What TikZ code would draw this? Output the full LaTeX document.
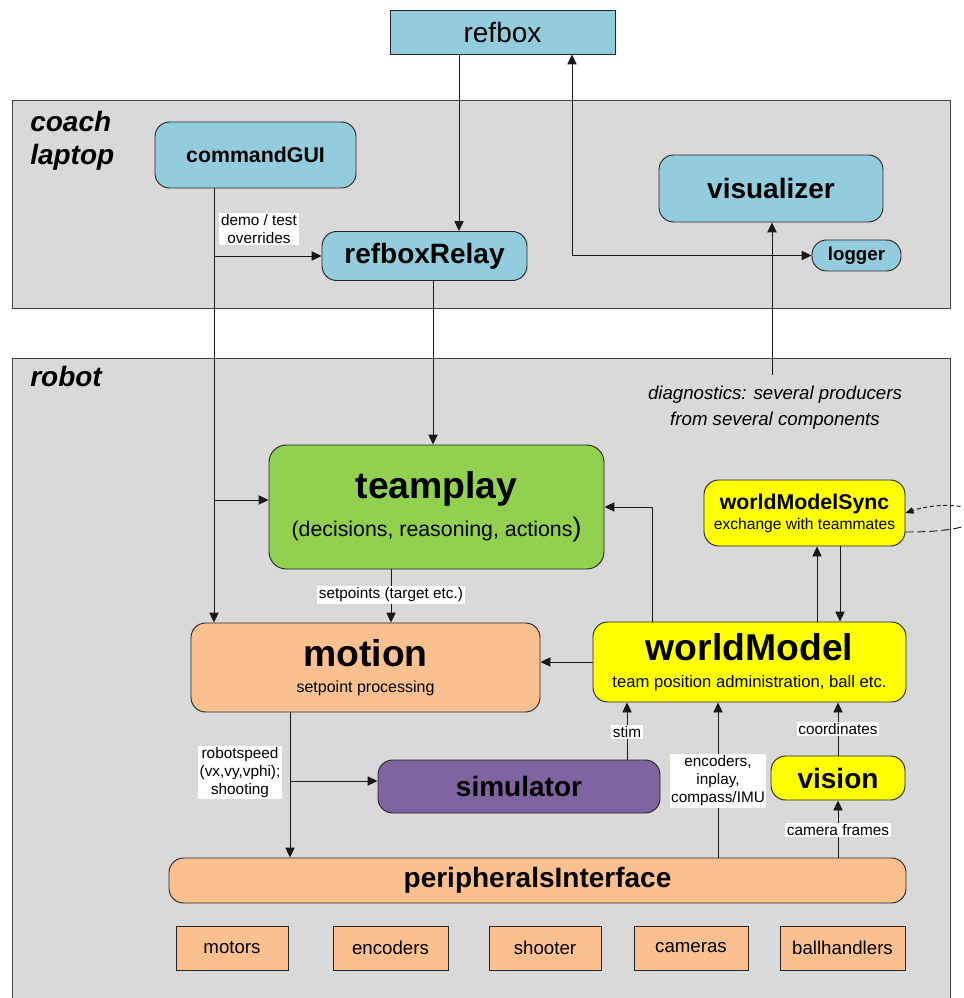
\documentclass[tikz,border=0pt]{standalone}
\usepackage{fontspec}
\setmainfont{Liberation Sans}
\usetikzlibrary{arrows.meta}
\definecolor{cblue}{HTML}{93CDDD}
\definecolor{cgray}{HTML}{D9D9D9}
\definecolor{cgreen}{HTML}{92D050}
\definecolor{cpeach}{HTML}{FAC090}
\definecolor{cyel}{HTML}{FFFF00}
\definecolor{cpurp}{HTML}{8064A2}
\newcommand\fsz[2]{\fontsize{#1pt}{#2pt}\selectfont}
\tikzset{
  px/.style 2 args={minimum width=#1*0.75pt, minimum height=#2*0.75pt},
  panel/.style={draw=black!75, fill=cgray, line width=1pt, inner sep=0pt, anchor=north west},
  rbox/.style={draw=black!85, line width=0.7pt, rounded corners=11pt, inner sep=0pt, align=center},
  sbox/.style={draw=black!85, line width=0.7pt, inner sep=0pt, align=center},
  lbl/.style={fill=white, inner sep=1.2pt, align=center, font=\fsz{11.5}{13.5}},
  conn/.style={draw=black!90, line width=0.7pt},
  arr/.style={conn, -{Triangle[length=7.5pt,width=7pt]}},
  darr/.style={conn, {Triangle[length=7.5pt,width=7pt]}-{Triangle[length=7.5pt,width=7pt]}},
}
\begin{document}
\begin{tikzpicture}[x=0.75pt,y=-0.75pt]
\useasboundingbox (0,0) rectangle (963,998);
\clip (0,0) rectangle (963,998);

% panels
\node[panel, px={938}{208}] (coachpanel) at (12,100) {};
\node[panel, px={938}{660}] (robotpanel) at (12,358) {};
\node[anchor=north west, inner sep=0pt, align=left, font=\fsz{21}{25}\bfseries\itshape] (coachlabel) at (30,111) {coach\\laptop};
\node[anchor=north west, inner sep=0pt, font=\fsz{21}{25}\bfseries\itshape] (robotlabel) at (30,366) {robot};

% top boxes
\node[sbox, fill=cblue, px={225}{44}, font=\fsz{21}{25}] (refbox) at (502.5,32) {refbox};
\node[rbox, fill=cblue, px={201}{66}, font=\fsz{16}{19}\bfseries] (commandGUI) at (255.5,155) {commandGUI};
\node[rbox, fill=cblue, px={205}{49}, font=\fsz{21}{25}\bfseries] (refboxRelay) at (424.5,256) {refboxRelay};
\node[rbox, fill=cblue, px={224}{67}, font=\fsz{21}{25}\bfseries] (visualizer) at (771,188.5) {visualizer};
\node[rbox, fill=cblue, px={89}{31}, font=\fsz{14}{17}\bfseries] (logger) at (856.5,255.5) {logger};

% robot boxes
\node[rbox, fill=cgreen, rounded corners=13pt, px={335}{124}, font=\fsz{16}{19}] (teamplay) at (436.5,507)
  {{\fsz{28}{30}\bfseries teamplay}\\[7pt](decisions, reasoning, actions{\fsz{20}{20})}};
\node[rbox, fill=cyel, px={201}{66}, font=\fsz{11.7}{14}] (worldModelSync) at (804.5,513)
  {{\fsz{16}{19}\bfseries worldModelSync}\\[1pt]exchange with teammates};
\node[rbox, fill=cpeach, px={349}{89}, font=\fsz{12}{14}] (motion) at (365.5,667.5)
  {{\fsz{28}{30}\bfseries motion}\\[5pt]setpoint processing};
\node[rbox, fill=cyel, px={313}{80}, font=\fsz{12.5}{15}] (worldModel) at (749.5,662)
  {{\fsz{28}{30}\bfseries worldModel}\\[5pt]team position administration, ball etc.};
\node[rbox, fill=cpurp, px={282}{53}, font=\fsz{21}{25}\bfseries] (simulator) at (519,786.5) {simulator};
\node[rbox, fill=cyel, px={134}{44}, font=\fsz{21}{25}\bfseries] (vision) at (838,778) {vision};
\node[rbox, fill=cpeach, px={737}{45}, font=\fsz{21}{25}\bfseries] (peripheralsInterface) at (537.5,880.5) {\raisebox{-2pt}{peripheralsInterface}};

\node[sbox, fill=cpeach, px={112}{44}, font=\fsz{14}{17}] (motors) at (232,948) {\raisebox{-1.5pt}{motors}};
\node[sbox, fill=cpeach, px={115}{44}, font=\fsz{14}{17}] (encoders) at (390.5,948) {encoders};
\node[sbox, fill=cpeach, px={112}{44}, font=\fsz{14}{17}] (shooter) at (545,948) {shooter};
\node[sbox, fill=cpeach, px={114}{44}, font=\fsz{14}{17}] (cameras) at (691,948) {\raisebox{-1.5pt}{cameras}};
\node[sbox, fill=cpeach, px={125}{44}, font=\fsz{14}{17}] (ballhandlers) at (842.5,948) {ballhandlers};

% connectors top
\draw[arr] (refbox.south -| 459,0) -- (refboxRelay.north -| 459,0);
\draw[darr] (refbox.south -| 572,0) |- (logger.west);
\coordinate (cg) at (commandGUI.south -| 214,0);
\draw[arr] (cg) -- (motion.north -| cg);
\draw[arr] (refboxRelay.west -| cg) -- (refboxRelay.west);
\draw[arr] (cg |- 0,500) -- (teamplay.west |- 0,500);
\node[lbl] (demolbl) at (259,229) {demo / test\\overrides};
\draw[arr] (refboxRelay.south -| 433,0) -- (teamplay.north -| 433,0);
\coordinate (diag) at (772,375);
\draw[arr] (diag) -- (visualizer.south -| diag);
\node[align=center, inner sep=0pt, font=\fsz{14}{19.5}\itshape] (diaglbl) at (775,408) {diagnostics: several producers\\from several components};

% connectors robot
\draw[arr] (teamplay.south -| 391,0) -- (motion.north -| 391,0);
\node[lbl] (setlbl) at (391,595) {setpoints (target etc.)};
\draw[arr] (worldModel.north -| 652,0) |- (teamplay.east |- 0,507);
\draw[arr] (worldModel.north -| 817,0) -- (worldModelSync.south -| 817,0);
\draw[arr] (worldModelSync.south -| 840,0) -- (worldModel.north -| 840,0);
\draw[arr] (worldModel.west) -- (motion.east |- worldModel.west);
\draw[arr] (motion.south -| 290,0) -- (peripheralsInterface.north -| 290,0);
\draw[arr] (290,781) -- (simulator.west |- 0,781);
\node[lbl] (speedlbl) at (240,772.5) {robotspeed\\(vx,vy,vphi);\\shooting};
\draw[arr] (simulator.north -| 627,0) -- (worldModel.south -| 627,0);
\node[lbl] (stimlbl) at (627,732) {stim};
\draw[arr] (peripheralsInterface.north -| 718,0) -- (worldModel.south -| 718,0);
\node[lbl] (enclbl) at (718,781) {encoders,\\inplay,\\compass/IMU};
\draw[arr] (vision.north) -- (worldModel.south -| vision.north);
\node[lbl] (coordlbl) at (838,729) {coordinates};
\draw[arr] (peripheralsInterface.north -| vision.south) -- (vision.south);
\node[lbl] (camlbl) at (838,830) {camera frames};

% dashed loop to teammates
\coordinate (loopend) at (985,516);
\draw[conn, densely dashed, -{Triangle[length=6pt,width=5pt]}] (loopend) .. controls (970,503) and (935,503) .. (worldModelSync.east |- 0,513);
\draw[conn, dash pattern=on 6pt off 3pt] (worldModelSync.east |- 0,532) .. controls (935,532) and (970,530) .. (loopend);
\end{tikzpicture}
\end{document}
